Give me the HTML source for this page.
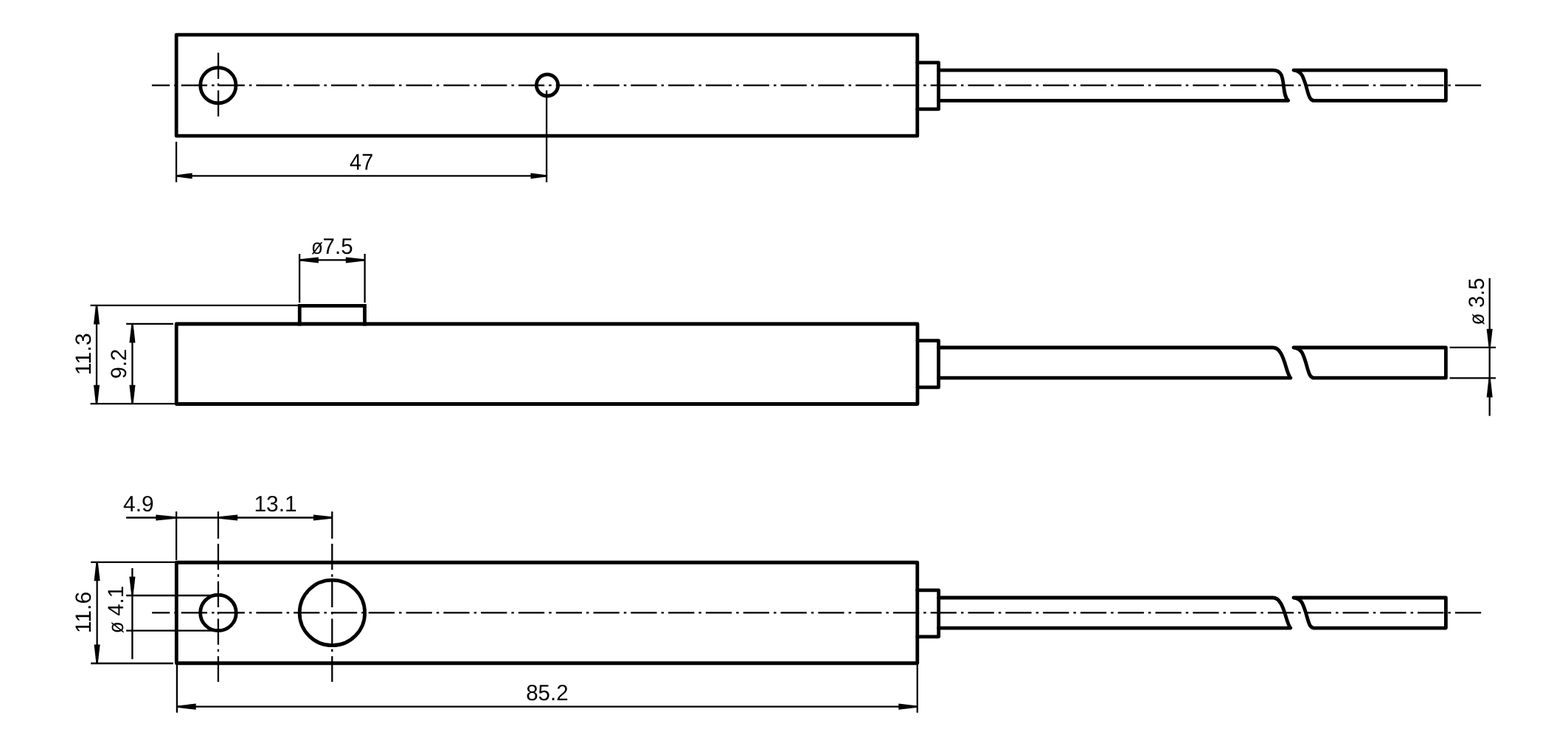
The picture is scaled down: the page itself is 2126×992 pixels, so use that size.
<!DOCTYPE html>
<html lang="en">
<head>
<meta charset="utf-8">
<title>Dimensional drawing</title>
<style>
html,body{margin:0;padding:0;background:#fff;}
body{width:2126px;height:992px;overflow:hidden;}
svg{display:block;will-change:transform;}
.k{fill:none;stroke:#000;stroke-width:4.8;stroke-linejoin:round;stroke-linecap:round;}
.n{fill:none;stroke:#000;stroke-width:2.3;}
.c{fill:none;stroke:#000;stroke-width:2.3;stroke-dasharray:35.3 6 3.5 6;}
.a{fill:#000;stroke:none;}
text{white-space:pre;text-rendering:geometricPrecision;font-family:"Liberation Sans","DejaVu Sans",sans-serif;font-size:31.0px;fill:#000;stroke:none;}
</style>
</head>
<body>
<svg width="2126" height="992" viewBox="0 0 2126 992">
<rect x="0" y="0" width="2126" height="992" fill="#fff"/>
<path class="k" d="M239.15,47.1H1243.8V184.2H239.15Z"/>
<path class="k" d="M1243.8,84.85H1272.6V147.9H1243.8"/>
<path class="k" d="M1272.6,95.1L1726,95.1C1738,95.1 1739,105.1 1740.3,115.75C1741.6,126.4 1742.6,132.9 1746.6,136.4L1272.6,136.4"/>
<path class="k" d="M1754,95.1C1764.5,96.30 1766.6,103.1 1770.1,114.1C1773.6,125.1 1774.9,136.4 1781.6,136.4L1960.4,136.4L1960.4,95.1L1754,95.1"/>
<circle class="k" cx="295.8" cy="115.65" r="24.1"/>
<circle class="k" cx="742" cy="115.4" r="14.6"/>
<path class="c" d="M205.9,115.6L2008.5,115.6" stroke-dashoffset="11.0"/>
<path class="c" d="M296,71.6L296,158.2" stroke-dashoffset="0"/>
<path class="n" d="M239.05,192.1V246.9"/>
<path class="n" d="M741.1,122.5V246.9"/>
<path class="n" d="M239,238.4H741.1"/>
<polygon class="a" points="239.00,237.25 239.00,239.55 260.60,242.30 260.60,234.50"/>
<polygon class="a" points="741.10,237.25 741.10,239.55 719.50,242.30 719.50,234.50"/>
<text transform="translate(474.1,230.1) scale(0.93,1.0)">47</text>
<path class="k" d="M239.2,439H1244V547.5H239.2Z"/>
<path class="k" style="stroke-linejoin:miter;stroke-linecap:butt" d="M406.25,441.4V414.45H494.5V441.4"/>
<path class="k" d="M1244,461.6H1272.6V524.9H1244"/>
<path class="k" d="M1272.6,471L1726,471C1735,471 1739.2,483.15 1742,491.70C1744.4,499.30 1746.6,508.80 1749.8,512.2L1272.6,512.2"/>
<path class="k" d="M1754,471C1764.5,472.20 1766.6,479 1770.1,490C1773.6,501 1774.9,512.2 1781.6,512.2L1960.4,512.2L1960.4,471L1754,471"/>
<path class="n" d="M406.1,344V410.2"/>
<path class="n" d="M494.6,344V410.2"/>
<path class="n" d="M406.1,352.45H494.6"/>
<polygon class="a" points="406.10,351.30 406.10,353.60 431.90,356.50 431.90,348.40"/>
<polygon class="a" points="494.60,351.30 494.60,353.60 468.80,356.50 468.80,348.40"/>
<text transform="translate(422.1,343.85) scale(0.84,0.93)">ø</text><text transform="translate(437.6,343.85) scale(0.95,0.975)">7.5</text>
<path class="n" d="M122.6,413.9H406.5"/>
<path class="n" d="M171.1,438.9H234.9"/>
<path class="n" d="M122.6,547.15H237"/>
<path class="n" d="M131,413.9V547.15"/>
<polygon class="a" points="129.85,413.90 132.15,413.90 135.05,439.40 126.95,439.40"/>
<polygon class="a" points="129.85,547.15 132.15,547.15 135.05,521.65 126.95,521.65"/>
<path class="n" d="M179.45,438.9V547.15"/>
<polygon class="a" points="178.30,438.90 180.60,438.90 183.50,464.40 175.40,464.40"/>
<polygon class="a" points="178.30,547.15 180.60,547.15 183.50,521.65 175.40,521.65"/>
<text transform="translate(122.9,508.39) rotate(-90) scale(0.9856,0.96)">11.3</text>
<text transform="translate(171.4,513.19) rotate(-90) scale(0.94,0.96)">9.2</text>
<path class="n" d="M1965.6,470.8H2028"/>
<path class="n" d="M1965.6,512.35H2028"/>
<path class="n" d="M2019.7,376.9V563.6"/>
<polygon class="a" points="2018.55,470.80 2020.85,470.80 2023.75,445.80 2015.65,445.80"/>
<polygon class="a" points="2018.55,512.30 2020.85,512.30 2023.75,538.40 2015.65,538.40"/>
<text transform="translate(2011.95,440.6) rotate(-90) scale(0.84,0.93)">ø </text><text transform="translate(2011.95,416.98) rotate(-90) scale(0.936,0.96)">3.5</text>
<path class="k" d="M239.3,762.25H1243.8V898.75H239.3Z"/>
<path class="k" d="M1243.8,799.95H1272.7V862.8H1243.8"/>
<path class="k" d="M1272.6,810.0L1726,810.0C1735,810.0 1739.2,822.15 1742,830.70C1744.4,838.30 1746.6,847.65 1749.8,851.05L1272.6,851.05"/>
<path class="k" d="M1754,810.0C1764.5,811.20 1766.6,818.0 1770.1,829.0C1773.6,840.0 1774.9,851.05 1781.6,851.05L1960.4,851.05L1960.4,810.0L1754,810.0"/>
<circle class="k" cx="295.9" cy="830.4" r="24.3"/>
<circle class="k" cx="450.4" cy="830.45" r="44.25"/>
<path class="c" d="M206.1,830.4L2008.5,830.4" stroke-dashoffset="11.199999999999989"/>
<path class="n" d="M295.9,693.2V730"/>
<path class="c" d="M295.9,736.9L295.9,923.9" stroke-dashoffset="0"/>
<path class="n" d="M450.3,693.2V730"/>
<path class="c" d="M450.3,736.9L450.3,923.9" stroke-dashoffset="0"/>
<path class="n" d="M239.1,693.2V759"/>
<path class="n" d="M239.9,899V965.8"/>
<path class="n" d="M1243.8,899V965.8"/>
<path class="n" d="M171.1,701.5H450.3"/>
<polygon class="a" points="239.10,700.35 239.10,702.65 211.30,705.55 211.30,697.45"/>
<polygon class="a" points="295.90,700.35 295.90,702.65 322.10,705.55 322.10,697.45"/>
<polygon class="a" points="450.30,700.35 450.30,702.65 424.90,705.55 424.90,697.45"/>
<text transform="translate(167.05,692.85) scale(0.963,0.975)">4.9</text>
<text transform="translate(344.41,692.75) scale(0.965,0.975)">13.1</text>
<path class="n" d="M123.2,761.8H239"/>
<path class="n" d="M123.2,899H235"/>
<path class="n" d="M131.6,761.8V899"/>
<polygon class="a" points="130.45,761.80 132.75,761.80 135.65,787.30 127.55,787.30"/>
<polygon class="a" points="130.45,899.00 132.75,899.00 135.65,873.50 127.55,873.50"/>
<text transform="translate(123.15,858.37) rotate(-90) scale(0.9764,0.96)">11.6</text>
<path class="n" d="M171.1,807H295"/>
<path class="n" d="M171.1,854.6H295"/>
<path class="n" d="M179.4,770V893.3"/>
<polygon class="a" points="178.25,807.00 180.55,807.00 183.45,781.50 175.35,781.50"/>
<text transform="translate(167.3,858.3) rotate(-90) scale(0.84,0.93)">ø </text><text transform="translate(167.3,834.73) rotate(-90) scale(0.9475,0.96)">4.1</text>
<path class="n" d="M239.9,957.65H1243.8"/>
<polygon class="a" points="239.90,956.50 239.90,958.80 265.70,961.80 265.70,953.50"/>
<polygon class="a" points="1243.80,956.50 1243.80,958.80 1218.30,961.80 1218.30,953.50"/>
<text transform="translate(713.17,948.75) scale(0.9516,0.975)">85.2</text>
</svg>
</body>
</html>
